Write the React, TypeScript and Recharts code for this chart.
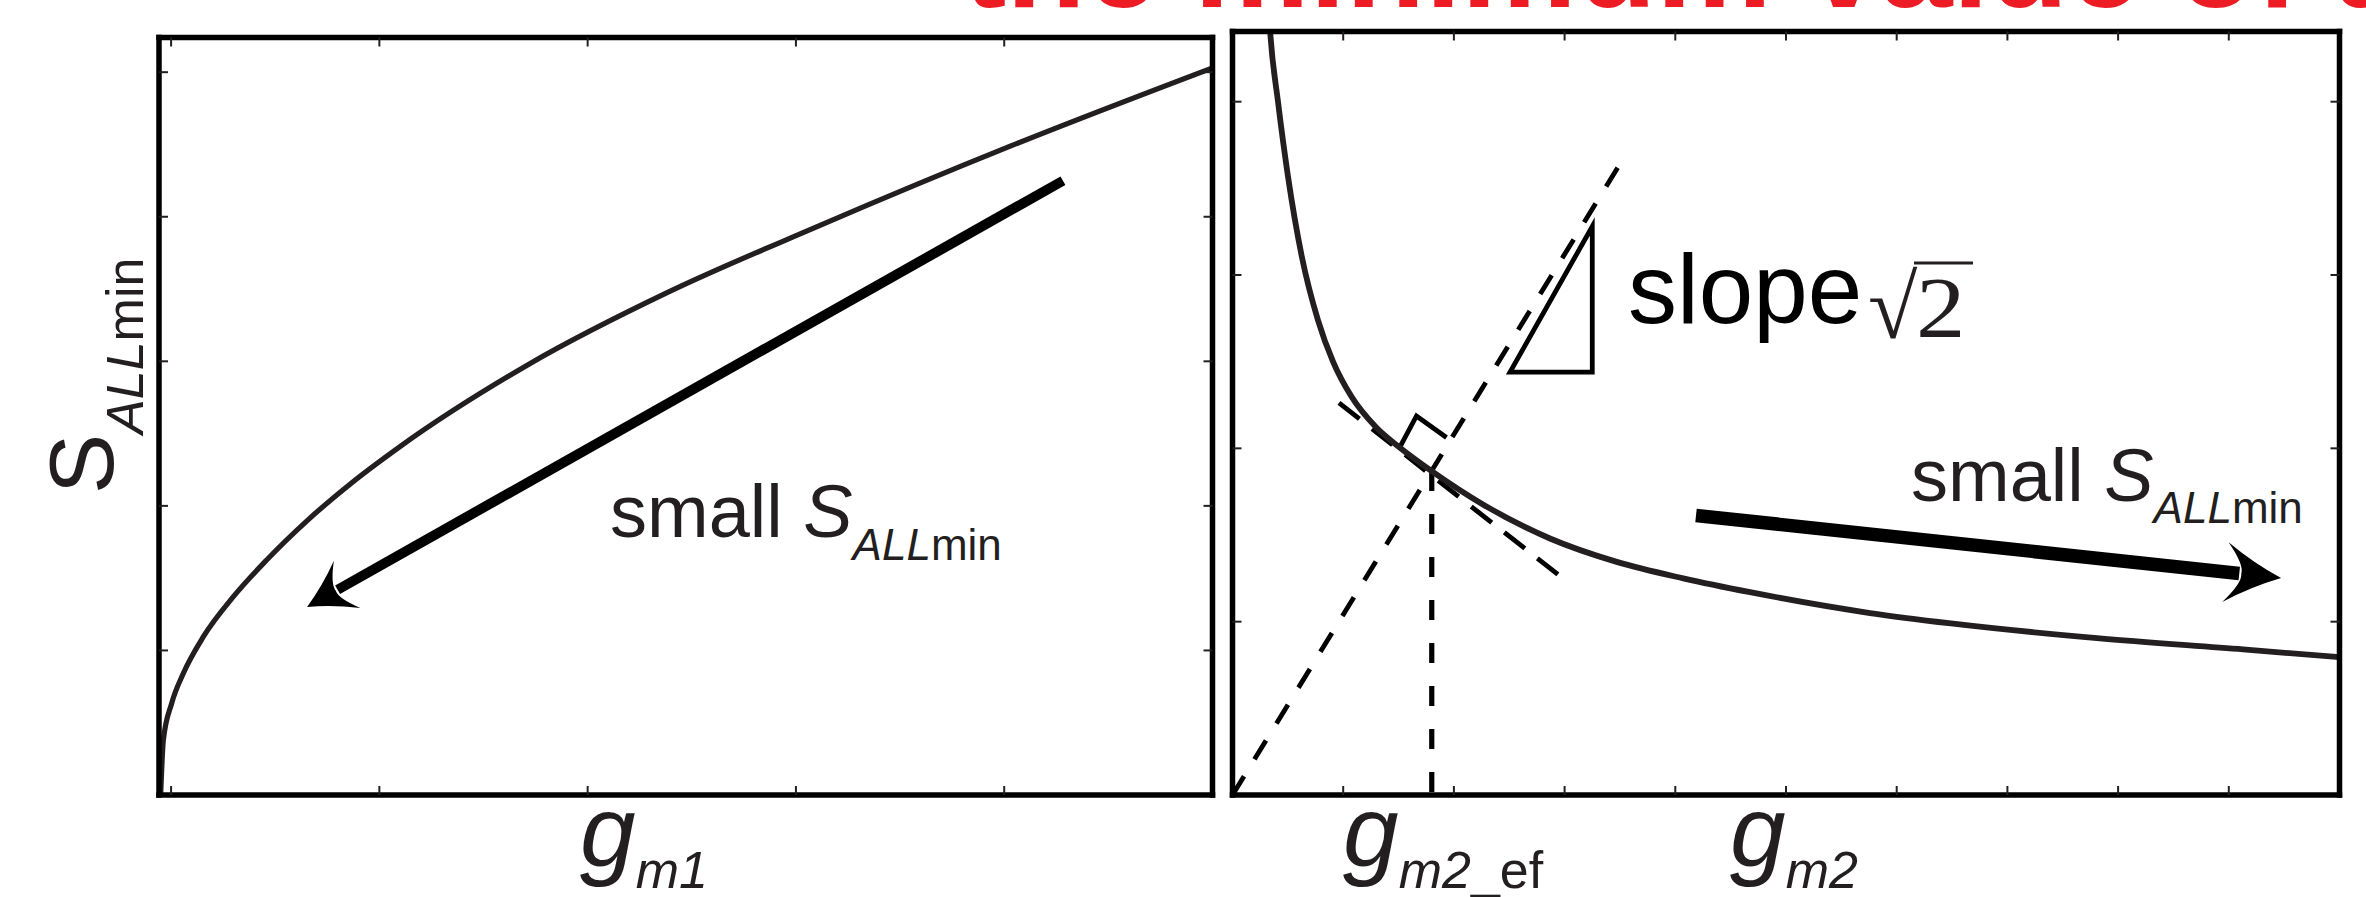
import React from "react";
import { LineChart, Line, XAxis, YAxis, ReferenceLine } from "recharts";

// ---- left panel: S_ALLmin versus g_m1 ----
const leftCurveX = [-0.05, -0.037, 0.003, 0.059, 0.155, 0.299, 0.459, 0.651, 0.859, 1.099, 1.718, 2.389, 3.099, 4.032, 5.0];
const leftCurveY = [0, 0.381, 0.635, 0.842, 1.095, 1.372, 1.626, 1.895, 2.15, 2.41, 2.98, 3.48, 3.93, 4.49, 5.03];
const leftXTicks = [0, 1, 2, 3, 4];
const leftYTicks = [1, 2, 3, 4, 5];
const leftXDomain = [-0.058, 5];
const leftYDomain = [0, 5.24];
// arrow "small S_ALLmin" (tail, head)
const leftArrowX = [4.282, 0.653];
const leftArrowY = [4.249, 1.301];

// ---- right panel: S_ALLmin versus g_m2 ----
const rightCurveX = [0.33, 0.341, 0.411, 0.501, 0.625, 0.772, 0.908, 1.073, 1.299, 1.51, 1.796, 2.266, 2.868, 3.471, 4.072, 4.675, 5.759, 6.49, 7.81, 9.13, 10];
const rightCurveY = [4.5, 4.395, 4.0, 3.57, 3.11, 2.74, 2.5, 2.3, 2.12, 2.005, 1.87, 1.675, 1.48, 1.345, 1.25, 1.17, 1.05, 0.99, 0.905, 0.84, 0.795];
const rightXTicks = [1, 2, 3, 4, 5, 6, 7, 8, 9];
const rightYTicks = [1, 2, 3, 4];
const rightXDomain = [0, 10];
const rightYDomain = [0, 4.405];
// slope line through the origin, normal line, and the g_m2_ef drop line
const slopeLineX = [0, 3.5];
const slopeLineY = [0, 3.64];
const normalLineX = [0.962, 2.975];
const normalLineY = [2.262, 1.255];
const gmEf = { x: 1.8, y: 1.87 };
const rightAngleX = [1.513, 1.662, 1.933];
const rightAngleY = [2.008, 2.187, 2.063];
const slopeTriX = [2.507, 3.25, 3.25, 2.507, 3.25];
const slopeTriY = [2.44, 3.28, 2.44, 2.44, 3.28];
const rightArrowX = [4.187, 9.472];
const rightArrowY = [1.613, 1.252];

const zip = (xs: number[], ys: number[]) => xs.map((x, i) => ({ x, y: ys[i] }));

const INK = "#231f20";
const SANS = "'Liberation Sans', Arial, Helvetica, sans-serif";
const SERIF = "'Liberation Serif', 'Times New Roman', serif";

const frameLine = { stroke: "#000", strokeWidth: 5.5, strokeLinecap: "square" as const };
const tickStroke = { stroke: INK, strokeWidth: 2 };
const noLabel = () => <g />;

// thick arrow with a swept, notched head; drawn from the segment's pixel ends
function arrowShape(shaft: number, headLen: number, headHalf: number, notch: number) {
  return (props: any) => {
    const { x1, y1, x2, y2 } = props;
    const dx = x2 - x1;
    const dy = y2 - y1;
    const len = Math.hypot(dx, dy) || 1;
    const ux = dx / len;
    const uy = dy / len;
    const nx = -uy;
    const ny = ux;
    const p = (a: number, b: number) =>
      `${(x2 + ux * a + nx * b).toFixed(1)},${(y2 + uy * a + ny * b).toFixed(1)}`;
    const d =
      `M${p(0, 0)} Q${p(-headLen * 0.5, -headHalf * 0.38)} ${p(-headLen, -headHalf)} ` +
      `Q${p(-notch * 0.95, -headHalf * 0.3)} ${p(-notch, 0)} ` +
      `Q${p(-notch * 0.95, headHalf * 0.3)} ${p(-headLen, headHalf)} ` +
      `Q${p(-headLen * 0.5, headHalf * 0.38)} ${p(0, 0)} Z`;
    const sx = x2 - ux * (notch + 2);
    const sy = y2 - uy * (notch + 2);
    return (
      <g>
        <line x1={x1} y1={y1} x2={sx} y2={sy} stroke="#000" strokeWidth={shaft} />
        <path d={d} fill="#000" />
      </g>
    );
  };
}

// four mirrored axes: the axis lines make the box, inward ticks on every side
function boxAxes(xDomain: number[], yDomain: number[], xTicks: number[], yTicks: number[]) {
  const common = {
    type: "number" as const,
    allowDataOverflow: true,
    tick: noLabel,
    tickLine: tickStroke,
    tickSize: -9,
    axisLine: frameLine,
    interval: 0 as const,
  };
  return [
    <XAxis key="xb" xAxisId="b" dataKey="x" orientation="bottom" height={1} domain={xDomain} ticks={xTicks} {...common} />,
    <XAxis key="xt" xAxisId="t" dataKey="x" orientation="top" height={1} domain={xDomain} ticks={xTicks} {...common} />,
    <YAxis key="yl" yAxisId="l" orientation="left" width={1} domain={yDomain} ticks={yTicks} {...common} />,
    <YAxis key="yr" yAxisId="r" orientation="right" width={1} domain={yDomain} ticks={yTicks} {...common} />,
  ];
}

const seriesBase = {
  xAxisId: "b",
  yAxisId: "l",
  dataKey: "y",
  dot: false,
  activeDot: false,
  isAnimationActive: false,
};

export default function App() {
  return (
    <div
      style={{
        position: "fixed",
        left: 0,
        top: 0,
        width: 2366,
        height: 897,
        overflow: "hidden",
        background: "#fff",
      }}
    >
      <div style={{ position: "absolute", left: 0, top: 0 }}>
        <LineChart width={1225} height={897} margin={{ top: 36.5, right: 11.5, bottom: 101, left: 158 }}>
          {boxAxes(leftXDomain, leftYDomain, leftXTicks, leftYTicks)}
          <Line {...seriesBase} data={zip(leftCurveX, leftCurveY)} type="monotone" stroke={INK} strokeWidth={5.2} />
          <ReferenceLine
            xAxisId="b"
            yAxisId="l"
            segment={zip(leftArrowX, leftArrowY)}
            shape={arrowShape(10, 46, 27, 33)}
            ifOverflow="visible"
          />
        </LineChart>
      </div>

      <div style={{ position: "absolute", left: 1225, top: 0 }}>
        <LineChart width={1141} height={897} margin={{ top: 30.5, right: 25.5, bottom: 101, left: 6.5 }}>
          {boxAxes(rightXDomain, rightYDomain, rightXTicks, rightYTicks)}
          <Line {...seriesBase} data={zip(slopeLineX, slopeLineY)} type="linear" stroke="#000" strokeWidth={4.8} strokeDasharray="22 20" />
          <Line {...seriesBase} data={zip(normalLineX, normalLineY)} type="linear" stroke="#000" strokeWidth={4.8} strokeDasharray="26 16" />
          <Line {...seriesBase} data={[gmEf, { x: gmEf.x, y: 0 }]} type="linear" stroke="#000" strokeWidth={5.2} strokeDasharray="20 23" />
          <Line {...seriesBase} data={zip(rightAngleX, rightAngleY)} type="linear" stroke="#000" strokeWidth={4.8} strokeLinejoin="miter" />
          <Line {...seriesBase} data={zip(slopeTriX, slopeTriY)} type="linear" stroke="#000" strokeWidth={4.8} strokeLinejoin="miter" strokeMiterlimit={10} />
          <Line {...seriesBase} data={zip(rightCurveX, rightCurveY)} type="monotone" stroke={INK} strokeWidth={5.8} />
          <ReferenceLine
            xAxisId="b"
            yAxisId="l"
            segment={zip(rightArrowX, rightArrowY)}
            shape={arrowShape(13.5, 56, 30, 40)}
            ifOverflow="visible"
          />
        </LineChart>
      </div>

      <svg
        width={2366}
        height={897}
        style={{ position: "absolute", left: 0, top: 0, pointerEvents: "none" }}
      >
        <text x={963} y={7} fontFamily={SANS} fontWeight="bold" fontSize={130} fill="#ED1C24">
          the minimum value of a
        </text>

        {/* y label, left panel */}
        <text transform="translate(113 494) rotate(-90)" fontFamily={SANS} fontSize={90} fill={INK}>
          S
          <tspan fontSize={52} dy={30} fontStyle="italic">ALL</tspan>
          <tspan fontSize={52}>min</tspan>
        </text>

        {/* x labels */}
        <text x={580} y={866} fontFamily={SANS} fontSize={100} fontStyle="italic" fill={INK}>
          g<tspan fontSize={52} dy={22}>m1</tspan>
        </text>
        <text x={1343} y={866} fontFamily={SANS} fontSize={100} fontStyle="italic" fill={INK}>
          g<tspan fontSize={52} dy={22}>m2</tspan>
          <tspan fontSize={52} fontStyle="normal">_ef</tspan>
        </text>
        <text x={1730} y={866} fontFamily={SANS} fontSize={100} fontStyle="italic" fill={INK}>
          g<tspan fontSize={52} dy={22}>m2</tspan>
        </text>

        {/* annotations */}
        <text x={610} y={537} fontFamily={SANS} fontSize={74} fill={INK}>
          small <tspan fontStyle="italic">S</tspan>
          <tspan fontSize={44} dy={23} fontStyle="italic">ALL</tspan>
          <tspan fontSize={44}>min</tspan>
        </text>
        <text x={1911} y={501} fontFamily={SANS} fontSize={74} fill={INK}>
          small <tspan fontStyle="italic">S</tspan>
          <tspan fontSize={44} dy={22} fontStyle="italic">ALL</tspan>
          <tspan fontSize={44}>min</tspan>
        </text>
        <text x={1628} y={323} fontFamily={SANS} fontSize={98} fill="#000">
          slope
        </text>
        <text x={1868} y={338} fontFamily={SERIF} fontSize={90} fill={INK}>
          √
        </text>
        <text transform="translate(1916 337) scale(1.15 1)" fontFamily={SERIF} fontSize={86} fill={INK}>
          2
        </text>
        <line x1={1914} y1={263} x2={1973} y2={263} stroke={INK} strokeWidth={3} />
      </svg>
    </div>
  );
}
